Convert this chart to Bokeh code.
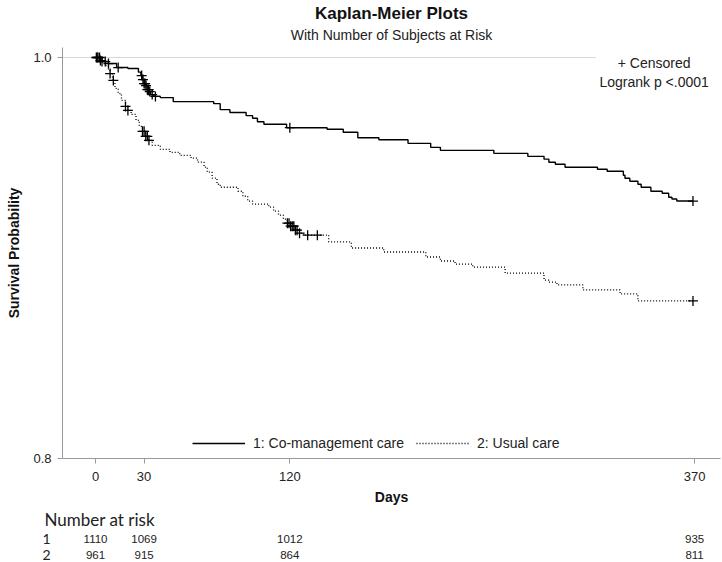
import numpy as np
from bokeh.plotting import figure
from bokeh.models import Range1d, Title, Legend, LegendItem, FixedTicker
from bokeh.layouts import column
from bokeh.core.properties import value
from bokeh.embed import file_html
from bokeh.resources import INLINE

# ---------------- data ----------------
# Group 1: Co-management care  (step times in days, survival after the step)
g1_times = [0, 4, 8, 13, 20, 26.5, 28, 29, 30, 31, 32, 33, 34, 36, 40, 48, 73, 77, 83, 93, 97,
            100, 104, 118, 143, 153, 162, 175, 193, 207, 213, 246, 267, 277, 280, 284, 290, 310,
            316, 326, 327, 330, 335, 337, 343, 350, 354, 356, 359, 369]
g1_surv = [1.0, 0.998, 0.997, 0.995, 0.9945, 0.9927, 0.991, 0.989, 0.987, 0.986, 0.984, 0.983,
           0.9815, 0.9806, 0.980, 0.978, 0.977, 0.974, 0.9726, 0.971, 0.9697, 0.968, 0.9667,
           0.965, 0.9642, 0.9627, 0.960, 0.959, 0.9572, 0.9552, 0.9537, 0.9522, 0.9507, 0.9493,
           0.9478, 0.9468, 0.9453, 0.9443, 0.9433, 0.9413, 0.9398, 0.9383, 0.9368, 0.9353,
           0.9333, 0.9323, 0.9303, 0.9294, 0.9284, 0.9284]
g1_censor = [0.5, 1.5, 2.5, 4, 6, 8, 14, 28.5, 29.3, 30, 30.6, 31.2, 32, 32.8, 33.5, 35, 37, 120, 369]

# Group 2: Usual care
g2_times = [0, 3, 6, 8, 9, 10.5, 12, 14, 16, 18.5, 20, 22, 25, 27, 29, 31, 33, 35, 40, 46, 52,
            59, 63, 67, 69, 72, 75, 77, 88, 91, 94, 97, 107, 110, 113, 116, 118.5, 120.5, 123,
            126, 128.5, 144, 158, 178, 204, 213, 222, 233, 253, 277, 280, 285, 301, 324, 335, 369]
g2_surv = [1.0, 0.9985, 0.996, 0.9935, 0.992, 0.9886, 0.9846, 0.982, 0.9786, 0.9756, 0.9736,
           0.9716, 0.9687, 0.9657, 0.9632, 0.9607, 0.9587, 0.9562, 0.9542, 0.9527, 0.9512,
           0.9498, 0.9478, 0.9453, 0.9428, 0.9398, 0.9368, 0.9353, 0.9333, 0.9308, 0.9284,
           0.9269, 0.9254, 0.9234, 0.9214, 0.9194, 0.9174, 0.9159, 0.9139, 0.9124, 0.9114,
           0.908, 0.905, 0.903, 0.9005, 0.8985, 0.897, 0.8955, 0.8925, 0.889, 0.888, 0.8866,
           0.8841, 0.8821, 0.8786, 0.8786]
g2_censor = [1, 3, 9, 11, 18.5, 20, 29, 30, 31, 32, 33, 118.5, 119.5, 120.5, 121.5, 122.5,
             123.5, 124.5, 126, 131, 137, 369]

x_ticks = [0, 30, 120, 370]
y_ticks = [0.8, 1.0]
risk_rows = ["1", "2"]
risk_1 = [1110, 1069, 1012, 935]
risk_2 = [961, 915, 864, 811]

group_labels = ["1: Co-management care", "2: Usual care"]
inset_lines = ["+ Censored", "Logrank p <.0001"]

# ---------------- styles / layout ----------------
FONT = "Liberation Sans"
FONT2 = "Lato"
W = 722
MAIN_H, TABLE_H = 508, 54
B_LEFT, B_RIGHT, B_TOP = 62, 2, 47
B_BOTTOM = MAIN_H - 458
X_START, X_END = -20.4, 386.0
Y_START, Y_END = 0.8, 1.005
REF_LINE_END = 309      # light reference line at 1.0 stops before the inset
INSET_X = 345
INSET_Y = [0.9975, 0.9876]


def censor_y(times, surv, cens):
    t = np.asarray(times)
    s = np.asarray(surv)
    idx = np.searchsorted(t, np.asarray(cens), side="right") - 1
    return s[np.clip(idx, 0, len(s) - 1)]


x_range = Range1d(X_START, X_END)
p = figure(width=W, height=MAIN_H, x_range=x_range,
           y_range=Range1d(Y_START, Y_END), output_backend="svg",
           toolbar_location=None, min_border_left=B_LEFT, min_border_right=B_RIGHT,
           min_border_top=B_TOP, min_border_bottom=B_BOTTOM)
p.title.visible = False
p.outline_line_color = None
p.grid.visible = False

p.add_layout(Title(text="With Number of Subjects at Risk", text_font=FONT,
                   text_font_size="14px", text_font_style="normal", align="center",
                   text_color="#222222", standoff=6, vertical_align="top"), "above")
p.add_layout(Title(text="Kaplan-Meier Plots", text_font=FONT, text_font_size="17px",
                   text_font_style="bold", align="center", text_color="#111111",
                   standoff=1), "above")

# reference line at 1.0
p.line(x=[X_START, REF_LINE_END], y=[1.0, 1.0], line_color="#d8d8d8", line_width=1)

r1 = p.step(x=g1_times, y=g1_surv, mode="after", line_color="black", line_width=1.4)
r2 = p.step(x=g2_times, y=g2_surv, mode="after", line_color="black", line_width=1.3,
            line_dash="1 2")

p.scatter(x=g1_censor, y=censor_y(g1_times, g1_surv, g1_censor), marker="cross",
          size=10, line_color="black", line_width=1.3)
p.scatter(x=g2_censor, y=censor_y(g2_times, g2_surv, g2_censor), marker="cross",
          size=10, line_color="black", line_width=1.3)

p.text(x=[INSET_X] * 2, y=INSET_Y, text=inset_lines, text_align="center",
       text_baseline="middle", text_font=value(FONT), text_font_size="14px",
       text_color="#222222")

legend = Legend(items=[LegendItem(label=group_labels[0], renderers=[r1]),
                       LegendItem(label=group_labels[1], renderers=[r2])],
                location=(127, 4), orientation="horizontal",
                glyph_width=53, glyph_height=16, label_standoff=8, spacing=12,
                padding=3, margin=0, label_text_font=FONT, label_text_font_size="14px",
                label_text_color="#222222", border_line_alpha=0,
                background_fill_color="white", background_fill_alpha=1)
p.add_layout(legend)

# axes
p.xaxis.ticker = FixedTicker(ticks=x_ticks)
p.yaxis.ticker = FixedTicker(ticks=y_ticks)
p.xaxis.axis_label = "Days"
p.yaxis.axis_label = "Survival Probability"
for ax in (p.xaxis[0], p.yaxis[0]):
    ax.axis_line_color = "#9a9a9a"
    ax.major_tick_line_color = "#9a9a9a"
    ax.major_tick_out = 5
    ax.major_tick_in = 0
    ax.minor_tick_line_color = None
    ax.major_label_text_font = FONT
    ax.major_label_text_font_size = "13px"
    ax.major_label_text_color = "#222222"
    ax.axis_label_text_font = FONT
    ax.axis_label_text_font_size = "14px"
    ax.axis_label_text_font_style = "bold"
    ax.axis_label_text_color = "#111111"
p.xaxis.major_label_standoff = 8
p.xaxis.axis_label_standoff = 5
p.yaxis.major_label_standoff = 6
p.yaxis.axis_label_standoff = 8
p.yaxis.major_label_overrides = {0.8: "0.8", 1.0: "1.0"}

# ---------------- number-at-risk table ----------------
t = figure(width=W, height=TABLE_H, x_range=x_range, y_range=Range1d(2.5, 0.5),
           output_backend="svg", toolbar_location=None, min_border_left=B_LEFT,
           min_border_right=B_RIGHT, min_border_top=22, min_border_bottom=0,
           x_axis_location=None)
t.title.visible = False
t.outline_line_color = None
t.grid.visible = False
t.add_layout(Title(text="Number at risk", text_font=FONT2, text_font_size="17px",
                   text_font_style="normal", align="left", offset=-18,
                   text_color="#222222", standoff=0, vertical_align="top"), "above")
t.yaxis.ticker = FixedTicker(ticks=[1, 2])
t.yaxis.major_label_overrides = {1: risk_rows[0], 2: risk_rows[1]}
t.yaxis.axis_line_color = None
t.yaxis.major_tick_line_color = None
t.yaxis.minor_tick_line_color = None
t.yaxis.major_label_standoff = 6
t.yaxis.major_label_text_font = FONT2
t.yaxis.major_label_text_font_size = "14px"
t.yaxis.major_label_text_color = "#222222"

t.text(x=x_ticks, y=[1] * len(x_ticks), text=[str(v) for v in risk_1], text_align="center",
       text_baseline="middle", text_font=value(FONT), text_font_size="11.5px",
       text_color="#222222")
t.text(x=x_ticks, y=[2] * len(x_ticks), text=[str(v) for v in risk_2], text_align="center",
       text_baseline="middle", text_font=value(FONT), text_font_size="11.5px",
       text_color="#222222")

layout = column(p, t, spacing=0)
open("out.html", "w").write(file_html(layout, INLINE))
